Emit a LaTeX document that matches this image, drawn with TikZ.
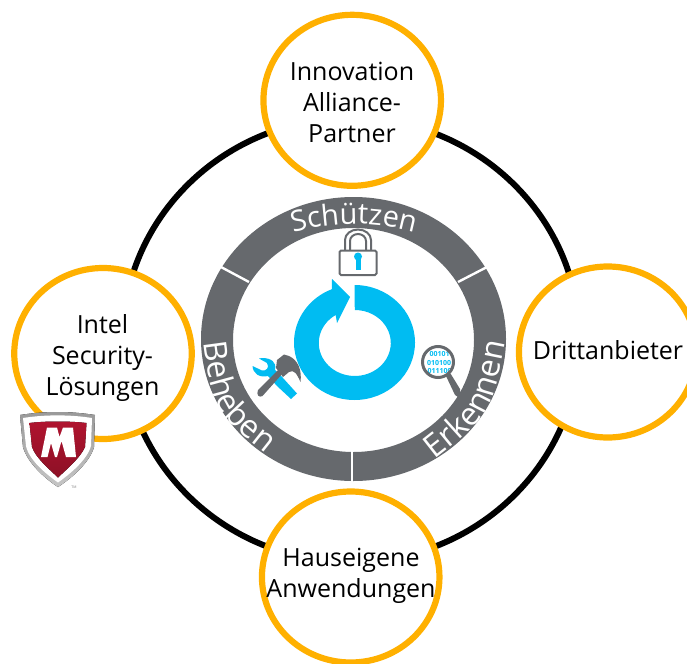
\documentclass[tikz,border=0pt]{standalone}
\usepackage{fontspec}
\setmainfont{Open Sans}
\usetikzlibrary{decorations.text,shapes.geometric}
\definecolor{ringgray}{HTML}{66696D}
\definecolor{sunorange}{HTML}{FFB000}
\definecolor{cycleblue}{HTML}{00BCF2}
\definecolor{shieldred}{HTML}{B0142F}
\tikzset{
  x=1pt,y=-1pt,
  partner/.style={draw=sunorange,line width=6.2pt,fill=white,ellipse,minimum width=177.5pt,minimum height=171pt,inner sep=0pt,outer sep=0pt},
  partnertext/.style={align=center,font=\fontsize{25}{31}\selectfont,text=black,inner sep=0pt},
  seplinestyle/.style={draw=white,line width=2.4pt},
  arctext/.style={decorate,decoration={text along path,text align=center,
     text={|\fontsize{29}{30}\selectfont\color{white}|#1}}},
  arctextbig/.style={decorate,decoration={text along path,text align=center,
     text={|\fontsize{32}{33}\selectfont\color{white}|#1}}},
}
\begin{document}
\begin{tikzpicture}
\useasboundingbox (0,0) rectangle (687,663);
% outer ring
\draw[black,line width=6pt] (351,340) ellipse [x radius=228.5,y radius=222];
% partners
\node[partner] (top) at (352.2,100.3) {};
\node[partner] (left) at (103,353.5) {};
\node[partner] (right) at (607.7,352) {};
\node[partner] (bottom) at (350.7,577) {};
\node[partnertext] (toptext) at (352,102) {Innovation\\Alliance-\\Partner};
\node[partnertext] (lefttext) at (102.5,358.5) {Intel\\Security-\\Lösungen};
\node[partnertext] (righttext) at (608,350) {Drittanbieter};
\node[partnertext] (bottomtext) at (351,575.5) {Hauseigene\\Anwendungen};
% grey ring
\fill[ringgray,even odd rule] (353.5,339) ellipse [x radius=152.5,y radius=142]
   (353.5,340) ellipse [x radius=120.5,y radius=112];
\coordinate (s1a) at (221,267); \coordinate (s1b) at (249,282);
\coordinate (s2a) at (487,267); \coordinate (s2b) at (458,282);
\coordinate (s3a) at (352,450); \coordinate (s3b) at (352,484);
\draw[seplinestyle] (s1a) -- (s1b);
\draw[seplinestyle] (s2a) -- (s2b);
\draw[seplinestyle] (s3a) -- (s3b);
% magnifier
\begin{scope}
\clip (438,362) circle (15);
\node[font=\fontsize{7}{8}\selectfont\bfseries,text=cycleblue,align=center,inner sep=0pt] (bits) at (439,362.5) {\,00101\\[0.3pt]010100\\[0.3pt]\,011100};
\end{scope}
\draw[ringgray,line width=3pt] (438,362) circle (15.5);
\fill[ringgray] (446,376) -- (450.5,373.5) -- (460,389) -- (461,399) -- (455,395) -- cycle;
% curved labels
\path[arctext=Schützen] (354,452) ++(250:228) arc[start angle=250,end angle=290,radius=228];
\path[arctextbig=Erkennen] (428,465) .. controls (491,416) .. (507,334);
\path[arctextbig=Beheben] (203,335) .. controls (213,412) .. (272,458);
% blue cycle
\fill[cycleblue] (354.5,285) arc[start angle=-90,end angle=248,x radius=60.5,y radius=57.5]
  -- (332,279) -- (350,297) -- (337,323) -- (335.7,315)
  arc[start angle=238,end angle=-90,x radius=36,y radius=33] -- cycle;
% lock
\draw[ringgray,line width=2pt,fill=white,rounded corners=1.5pt] (339.5,250.5) rectangle (376.5,275);
\draw[ringgray,line width=2pt] (345,250) -- (345,240) arc[start angle=180,end angle=360,x radius=13,y radius=10.5] -- (371,250);
\draw[ringgray,line width=2pt] (350,250) -- (350,241) arc[start angle=180,end angle=360,x radius=8,y radius=7] -- (366,250);
\fill[cycleblue] (358,256.5) circle (4pt);
\fill[cycleblue] (355.5,257) rectangle (360.5,270);
% wrench
\fill[cycleblue] (252.5,366) .. controls (253,374) and (260,378) .. (268,376)
  -- (277,386) -- (291,399) -- (297,393.5) -- (283,378) -- (275,370)
  .. controls (277,362) and (271,358) .. (262,358) -- (259,358.5) -- (267,363)
  .. controls (270,368) and (266,371) .. (262,370.5) -- cycle;
% hammer
\fill[ringgray] (258,390) -- (279,369) -- (283,373) -- (262.5,396) .. controls (259,398) and (256,395) .. (258,390) -- cycle;
\fill[ringgray] (277,360) -- (284,354.5) -- (289,356) .. controls (298,360) and (302,370) .. (300.5,382)
  .. controls (297,374) and (294,369) .. (289,372) -- (283,377) -- (276,368) -- cycle;
% shield
\fill[top color=gray!80,bottom color=gray!45] (20,415) .. controls (45,411) and (70,411) .. (95,415)
  -- (94,447) .. controls (90,462) and (72,478) .. (58,487) .. controls (44,478) and (27,462) .. (23,447) -- cycle;
\fill[white] (23,418) .. controls (45,414.5) and (70,414.5) .. (92,418)
  -- (91,446) .. controls (87,460) and (70,474) .. (58,482.5) .. controls (46,474) and (29,460) .. (26,446) -- cycle;
\fill[top color=shieldred,bottom color=shieldred!80!black] (29.5,423) .. controls (45,421) and (70,421) .. (86.5,423)
  -- (85,447) .. controls (80,458) and (68,468) .. (58,477.5) .. controls (48,468) and (36,458) .. (32,447) -- cycle;
\fill[white] (41,457) -- (47,427.5) -- (57,427.5) -- (59.5,437) -- (63,427.5) -- (73,427.5) -- (76,457) -- (66,457) -- (61.5,441) -- (57,457) -- (55,457) -- (51,443) -- (47.5,457) -- cycle;
\node[font=\fontsize{3.5}{4}\selectfont,text=gray,inner sep=0pt] (tm) at (74,487) {TM};
\end{tikzpicture}
\end{document}
